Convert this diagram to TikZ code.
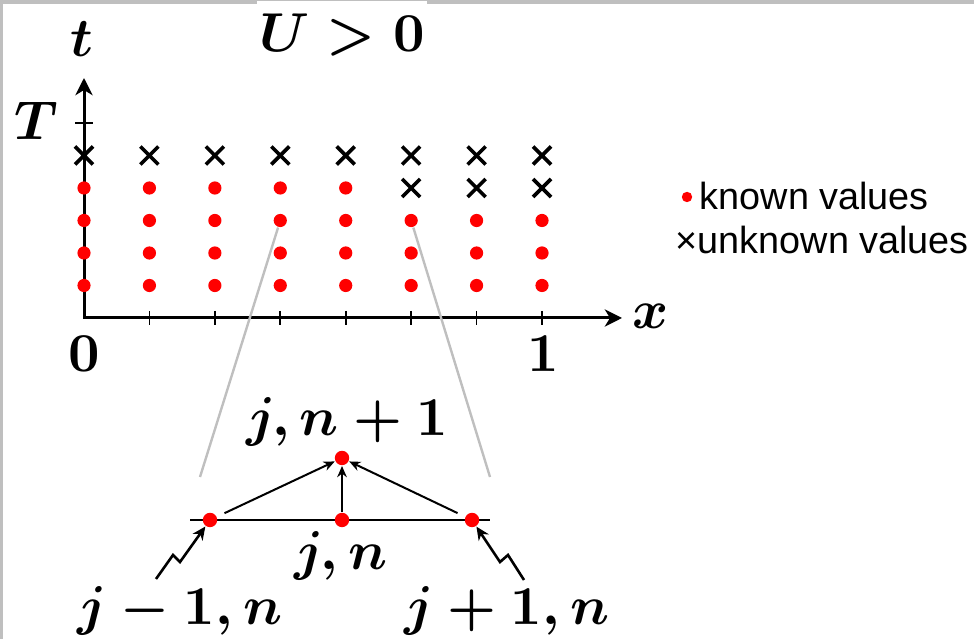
\documentclass[tikz,border=0pt]{standalone}
\usepackage{fontspec}
\newfontfamily\legendfont{Liberation Sans}
\usetikzlibrary{arrows.meta,shapes.misc}
\begin{document}
\begin{tikzpicture}[x=0.25pt,y=-0.25pt,
  mathlbl/.style={font=\boldmath, scale=1.37, inner sep=0pt},
  known/.style={circle, fill=red, inner sep=0pt, minimum size=3.3pt},
  unknown/.style={cross out, draw=black, line width=0.9pt, inner sep=0pt, minimum size=3.6pt},
  axis/.style={line width=0.75pt, {Stealth[length=4.3pt,width=4.3pt,inset=1.3pt]}-{Stealth[length=4.3pt,width=4.3pt,inset=1.3pt]}},
  tickmark/.style={line width=0.45pt},
  zoomline/.style={draw=gray!50, line width=0.6pt},
  stencil/.style={line width=0.6pt},
  flow/.style={line width=0.5pt, -{Stealth[length=2.8pt,width=2.4pt]}},
  pointer/.style={line width=0.65pt, -{Stealth[length=3.3pt,width=3pt]}},
  legend/.style={font=\legendfont\fontsize{9.45}{11}\selectfont, inner sep=0pt}
]
\useasboundingbox (0,0) rectangle (974,639);
\fill[gray!50] (0,0) rectangle (974,4);
\fill[gray!50] (0,0) rectangle (3,639);

% title
\node[mathlbl, anchor=base, fill=white, inner xsep=0.4pt, inner ysep=2.4pt] (title) at (342,52) {$U>0$};

% axes
\coordinate (o) at (84,318);
\coordinate (ytip) at (84,78);
\coordinate (xtip) at (622,318);
\draw[axis] (ytip) -- (o) -- (xtip);
\foreach \i in {1,...,7} \draw[tickmark] (84+65.43*\i,311) -- (84+65.43*\i,325);
\draw[tickmark] (75,123) -- (93,123);

\node[mathlbl, anchor=base] (tl) at (82,57) {$t$};
\node[mathlbl, anchor=base] (Tl) at (36,140) {$T$};
\node[mathlbl, anchor=base] (xl) at (651,329) {$x$};
\node[mathlbl, anchor=base] (zero) at (84,372) {$0$};
\node[mathlbl, anchor=base] (one) at (543,372) {$1$};

% grid
\foreach \i in {0,...,7} {
  \pgfmathsetmacro\xx{84+65.43*\i}
  \foreach \k in {1,2,3} \node[known] (g\i\k) at (\xx,318-32.5*\k) {};
  \ifnum\i<5
    \node[known] (g\i4) at (\xx,188) {};
  \else
    \node[unknown] (g\i4) at (\xx,188) {};
  \fi
  \node[unknown] (g\i5) at (\xx,155.5) {};
}

% legend
\node[known, minimum size=2.6pt] (ld) at (687,197) {};
\node[legend, anchor=base west] (lk) at (699,210) {known values};
\node[legend, anchor=base west] (lu) at (675,254) {×unknown values};

% zoom lines
\coordinate (zl) at (200,477);
\coordinate (zr) at (490,477);
\draw[zoomline] (g33) -- (zl);
\draw[zoomline] (g53) -- (zr);

% stencil
\coordinate (sa) at (190,520);
\coordinate (sb) at (490,520);
\draw[stencil] (sa) -- (sb);
\node[known, minimum size=3.6pt] (sl) at (210,520) {};
\node[known, minimum size=3.6pt] (sc) at (342,520) {};
\node[known, minimum size=3.6pt] (sr) at (472,520) {};
\node[known, minimum size=3.6pt] (st) at (342,458) {};
\draw[flow, shorten <=2pt] (sl) -- (st);
\draw[flow, shorten <=2pt] (sr) -- (st);
\draw[flow] (sc) -- (st);

\node[mathlbl, anchor=base] (lt) at (347,436) {$j,n+1$};
\node[mathlbl, anchor=base] (lc) at (341,570) {$j,n$};
\node[mathlbl, anchor=base] (lleft) at (180,625) {$j-1,n$};
\node[mathlbl, anchor=base] (lright) at (507,625) {$j+1,n$};

\coordinate (pl) at (156,579);
\coordinate (pr) at (524,580);
\draw[pointer] (pl) -- (173,555) -- (180,562) -- (sl);
\draw[pointer] (pr) -- (508,555) -- (500,562) -- (sr);
\end{tikzpicture}
\end{document}
